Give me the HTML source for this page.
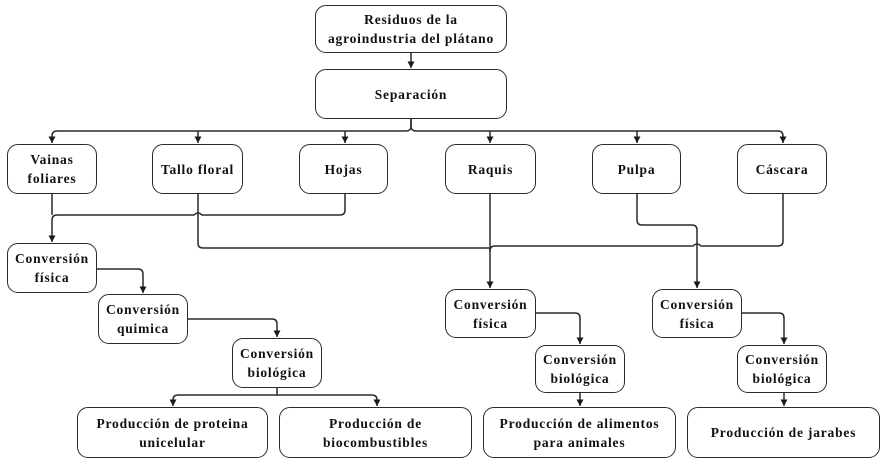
<!DOCTYPE html>
<html><head><meta charset="utf-8"><style>
html,body{margin:0;padding:0;background:#fff;}
body{width:884px;height:464px;position:relative;overflow:hidden;}
.b{position:absolute;box-sizing:border-box;border:1.6px solid #2a2a2a;border-radius:11px;display:flex;align-items:center;justify-content:center;text-align:center;font-family:"Liberation Serif",serif;font-weight:bold;font-size:13.5px;line-height:19px;letter-spacing:0.8px;color:#111;background:#fff;}
svg{position:absolute;left:0;top:0;}
</style></head><body>
<svg width="884" height="464" viewBox="0 0 884 464">
<defs><marker id="a" markerWidth="8" markerHeight="8" refX="4" refY="7.5" orient="0" markerUnits="userSpaceOnUse" overflow="visible"><path d="M0.5,1 L7.5,1 L4,7.5 Z" fill="#1a1a1a"/></marker></defs>
<g fill="none" stroke="#2a2a2a" stroke-width="1.5">
<path d="M411,53 V68" marker-end="url(#a)"/>
<path d="M411,119 V126 Q411,131 406,131 H57 Q52,131 52,136 V143" marker-end="url(#a)"/>
<path d="M411,119 V126 Q411,131 416,131 H778 Q783,131 783,136 V143" marker-end="url(#a)"/>
<path d="M198,131 V143" marker-end="url(#a)"/>
<path d="M345,131 V143" marker-end="url(#a)"/>
<path d="M490,131 V143" marker-end="url(#a)"/>
<path d="M637,131 V143" marker-end="url(#a)"/>
<path d="M345,194 V210 Q345,215 340,215 H202 Q198,211 194,215 H57 Q52,215 52,220 V242" marker-end="url(#a)"/>
<path d="M52,194 V215"/>
<path d="M198,194 V243 Q198,248 203,248 H490"/>
<path d="M490,194 V288" marker-end="url(#a)"/>
<path d="M783,194 V241 Q783,246 778,246 H701 Q697,242 693,246 H495 Q490,246 490,251"/>
<path d="M637,194 V220 Q637,225 642,225 H692 Q697,225 697,230 V288" marker-end="url(#a)"/>
<path d="M97,269 H138 Q143,269 143,274 V293" marker-end="url(#a)"/>
<path d="M188,319 H272 Q277,319 277,324 V337" marker-end="url(#a)"/>
<path d="M277,388 V395 H178 Q173,395 173,400 V406" marker-end="url(#a)"/>
<path d="M277,395 H372 Q377,395 377,400 V406" marker-end="url(#a)"/>
<path d="M536,313 H575 Q580,313 580,318 V344" marker-end="url(#a)"/>
<path d="M580,393 V406" marker-end="url(#a)"/>
<path d="M742,313 H779 Q784,313 784,318 V344" marker-end="url(#a)"/>
<path d="M784,393 V406" marker-end="url(#a)"/>
</g>
</svg>
<div class="b" style="left:315px;top:5px;width:192px;height:48px;">Residuos de la<br>agroindustria del plátano</div>
<div class="b" style="left:315px;top:69px;width:192px;height:50px;">Separación</div>
<div class="b" style="left:7px;top:144px;width:90px;height:50px;">Vainas<br>foliares</div>
<div class="b" style="left:152px;top:144px;width:91px;height:50px;">Tallo floral</div>
<div class="b" style="left:299px;top:144px;width:89px;height:50px;">Hojas</div>
<div class="b" style="left:445px;top:144px;width:91px;height:50px;">Raquis</div>
<div class="b" style="left:592px;top:144px;width:89px;height:50px;">Pulpa</div>
<div class="b" style="left:737px;top:144px;width:90px;height:50px;">Cáscara</div>
<div class="b" style="left:7px;top:243px;width:90px;height:50px;">Conversión<br>física</div>
<div class="b" style="left:98px;top:294px;width:90px;height:50px;">Conversión<br>quimica</div>
<div class="b" style="left:232px;top:338px;width:90px;height:50px;">Conversión<br>biológica</div>
<div class="b" style="left:77px;top:407px;width:191px;height:51px;">Producción de proteina<br>unicelular</div>
<div class="b" style="left:279px;top:407px;width:193px;height:51px;">Producción de<br>biocombustibles</div>
<div class="b" style="left:445px;top:289px;width:91px;height:49px;">Conversión<br>física</div>
<div class="b" style="left:535px;top:345px;width:90px;height:48px;">Conversión<br>biológica</div>
<div class="b" style="left:483px;top:407px;width:193px;height:51px;">Producción de alimentos<br>para animales</div>
<div class="b" style="left:652px;top:289px;width:90px;height:49px;">Conversión<br>física</div>
<div class="b" style="left:737px;top:345px;width:90px;height:48px;">Conversión<br>biológica</div>
<div class="b" style="left:687px;top:407px;width:193px;height:51px;">Producción de jarabes</div>
</body></html>
